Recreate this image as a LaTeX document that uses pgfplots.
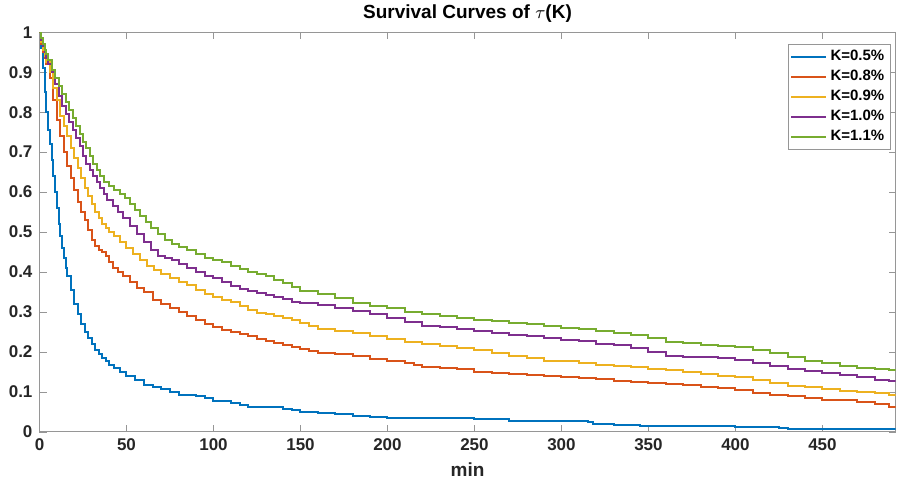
\documentclass[border=0pt]{standalone}
\usepackage{fontspec}
\setmainfont{Liberation Sans}
\usepackage{pgfplots}
\pgfplotsset{compat=1.18}
\usetikzlibrary{calc}
\definecolor{mblue}{rgb}{0,0.447,0.741}
\definecolor{morange}{rgb}{0.85,0.325,0.098}
\definecolor{myellow}{rgb}{0.929,0.694,0.125}
\definecolor{mpurple}{rgb}{0.494,0.184,0.556}
\definecolor{mgreen}{rgb}{0.466,0.674,0.188}
\definecolor{axgray}{RGB}{150,150,150}
\definecolor{labgray}{RGB}{38,38,38}

% survival curves (x in min)
\pgfplotstableread{
x y
0 1.0
1 0.96
2 0.91
3 0.85
4 0.80
5 0.755
6 0.72
7 0.68
8 0.64
9 0.60
10 0.56
11 0.52
12 0.49
13 0.46
14 0.435
15 0.41
16 0.39
18 0.355
20 0.32
22 0.295
24 0.27
26 0.25
28 0.235
30 0.22
32 0.205
34 0.195
36 0.185
38 0.176
40 0.168
43 0.16
46 0.15
50 0.14
55 0.13
60 0.118
65 0.113
70 0.108
75 0.10
80 0.092
90 0.09
95 0.085
100 0.078
110 0.073
115 0.068
120 0.063
130 0.062
140 0.058
145 0.055
150 0.05
160 0.048
170 0.044
180 0.04
190 0.036
200 0.035
240 0.034
250 0.032
270 0.028
300 0.027
315 0.025
318 0.019
330 0.017
345 0.015
395 0.014
400 0.012
425 0.01
430 0.008
470 0.007
492 0.006
}\kA
\pgfplotstableread{
x y
0 1.0
1 0.97
2 0.95
3 0.935
4 0.92
6 0.885
8 0.83
10 0.78
12 0.74
14 0.70
16 0.665
18 0.635
20 0.605
22 0.575
24 0.55
26 0.53
28 0.505
30 0.48
32 0.465
34 0.455
36 0.45
38 0.44
40 0.425
42 0.41
45 0.40
48 0.39
52 0.375
56 0.36
60 0.35
65 0.33
70 0.32
75 0.31
80 0.30
85 0.29
90 0.28
95 0.27
100 0.262
105 0.255
110 0.25
115 0.245
120 0.24
125 0.232
130 0.228
135 0.222
140 0.216
145 0.212
150 0.206
155 0.202
160 0.198
170 0.195
180 0.19
190 0.182
200 0.178
210 0.172
215 0.168
220 0.162
230 0.16
240 0.156
250 0.15
260 0.148
270 0.145
280 0.142
290 0.139
300 0.137
310 0.135
320 0.132
330 0.128
340 0.125
350 0.121
360 0.119
370 0.117
380 0.112
390 0.110
400 0.105
410 0.098
420 0.093
430 0.09
440 0.084
450 0.08
460 0.079
470 0.075
480 0.07
488 0.063
492 0.062
}\kB
\pgfplotstableread{
x y
0 1.0
1 0.975
2 0.955
3 0.94
4 0.925
6 0.90
8 0.86
10 0.83
12 0.79
14 0.765
16 0.74
18 0.71
20 0.685
22 0.66
24 0.635
26 0.61
28 0.59
30 0.57
32 0.55
34 0.535
36 0.52
38 0.51
40 0.50
43 0.49
46 0.475
50 0.46
54 0.445
58 0.43
62 0.415
66 0.405
70 0.395
75 0.385
80 0.375
85 0.368
90 0.355
95 0.345
100 0.338
105 0.33
110 0.325
115 0.315
120 0.305
125 0.298
130 0.295
135 0.29
140 0.285
145 0.28
150 0.272
155 0.265
160 0.258
170 0.252
180 0.248
190 0.24
200 0.232
210 0.225
220 0.22
230 0.215
240 0.21
250 0.205
260 0.198
270 0.19
280 0.185
290 0.178
300 0.176
310 0.172
320 0.168
330 0.165
340 0.162
350 0.158
360 0.155
370 0.15
380 0.144
390 0.14
400 0.136
410 0.13
420 0.122
430 0.115
440 0.112
450 0.108
460 0.103
470 0.1
480 0.097
488 0.093
492 0.092
}\kC
\pgfplotstableread{
x y
0 1.0
1 0.98
2 0.965
3 0.95
4 0.935
5 0.92
7 0.90
9 0.87
11 0.84
13 0.815
15 0.795
17 0.775
19 0.755
21 0.735
23 0.715
25 0.69
27 0.67
29 0.655
31 0.64
33 0.625
35 0.61
37 0.595
39 0.58
42 0.565
45 0.55
48 0.535
52 0.515
56 0.495
60 0.475
64 0.455
68 0.44
72 0.435
76 0.43
80 0.42
85 0.41
90 0.40
95 0.39
100 0.385
105 0.375
110 0.365
115 0.358
120 0.352
125 0.348
130 0.343
135 0.338
140 0.333
145 0.325
150 0.322
160 0.318
170 0.31
180 0.302
190 0.295
200 0.285
210 0.275
220 0.265
230 0.262
240 0.258
250 0.252
260 0.248
270 0.243
280 0.24
290 0.235
300 0.23
310 0.226
320 0.22
330 0.216
340 0.21
350 0.2
360 0.19
370 0.188
380 0.186
390 0.184
400 0.18
410 0.172
420 0.165
430 0.158
440 0.152
450 0.147
460 0.142
470 0.138
480 0.13
488 0.128
492 0.128
}\kD
\pgfplotstableread{
x y
0 1.0
1 0.985
2 0.97
3 0.955
4 0.945
5 0.93
7 0.905
9 0.885
11 0.865
13 0.845
15 0.825
17 0.805
19 0.785
21 0.765
23 0.745
25 0.725
27 0.71
29 0.69
31 0.67
33 0.655
35 0.64
37 0.625
40 0.615
43 0.605
46 0.595
49 0.585
52 0.57
55 0.555
58 0.54
61 0.525
64 0.51
68 0.495
72 0.48
76 0.47
80 0.462
85 0.455
90 0.445
95 0.435
100 0.43
105 0.425
110 0.415
115 0.408
120 0.40
125 0.395
130 0.39
135 0.38
140 0.372
145 0.362
150 0.352
160 0.345
170 0.335
180 0.322
190 0.315
200 0.31
210 0.3
220 0.295
230 0.29
240 0.284
250 0.28
260 0.276
270 0.272
280 0.27
290 0.265
300 0.26
310 0.258
320 0.252
330 0.247
340 0.242
350 0.235
360 0.225
370 0.221
380 0.218
390 0.215
400 0.212
410 0.205
420 0.196
430 0.186
440 0.178
450 0.172
460 0.165
470 0.16
480 0.156
488 0.154
492 0.152
}\kE

\begin{document}
\begin{tikzpicture}
\begin{axis}[
  scale only axis,
  width=428pt, height=199.7pt,
  xmin=0, xmax=492, ymin=0, ymax=1,
  xtick={0,50,100,150,200,250,300,350,400,450},
  ytick={0,0.1,0.2,0.3,0.4,0.5,0.6,0.7,0.8,0.9,1},
  yticklabels={0,0.1,0.2,0.3,0.4,0.5,0.6,0.7,0.8,0.9,1},
  tick align=inside,
  major tick length=3.5pt,
  axis line style={draw=axgray},
  tick style={draw=axgray},
  tick label style={font=\fontsize{8.5}{10}\selectfont\bfseries, text=labgray},
  /pgf/number format/assume math mode=true,
  title={\fontsize{9.5}{11}\selectfont\bfseries Survival Curves of $\tau$(K)},
  title style={yshift=-4.5pt},
  xlabel={\fontsize{9.5}{11}\selectfont\bfseries min},
  xlabel style={text=labgray, yshift=1pt},
  legend cell align=left,
  legend style={draw=axgray, font=\fontsize{7.5}{9}\selectfont\bfseries,
    at={(0.9944,0.9707)}, anchor=north east, inner sep=1pt, row sep=-0.8pt},
  every axis plot/.append style={const plot, line width=1pt},
]
\addplot[mblue] table[x=x,y=y] {\kA};
\addlegendentry{K=0.5\%}
\addplot[morange] table[x=x,y=y] {\kB};
\addlegendentry{K=0.8\%}
\addplot[myellow] table[x=x,y=y] {\kC};
\addlegendentry{K=0.9\%}
\addplot[mpurple] table[x=x,y=y] {\kD};
\addlegendentry{K=1.0\%}
\addplot[mgreen] table[x=x,y=y] {\kE};
\addlegendentry{K=1.1\%}
\end{axis}
\pgfresetboundingbox
\path ($(current axis.south west)+(-19.75pt,-23.65pt)$) rectangle ($(current axis.south west)+(428.75pt,215.85pt)$);
\end{tikzpicture}
\end{document}
